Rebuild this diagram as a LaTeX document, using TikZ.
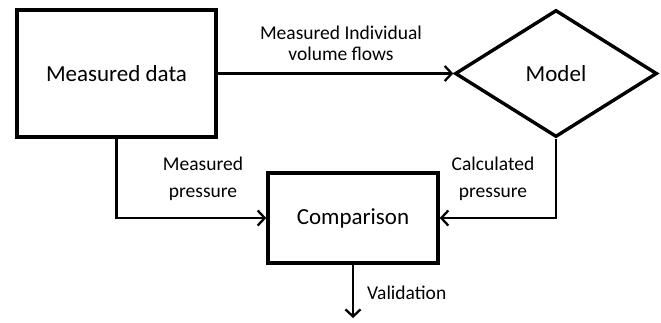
\documentclass[tikz,border=0pt]{standalone}
\usepackage{fontspec}
\setmainfont{Carlito}
\usetikzlibrary{arrows.meta,shapes.geometric}
\begin{document}
\begin{tikzpicture}[x=1pt,y=-1pt,
  box/.style={draw,line width=3.4pt,inner sep=0pt},
  conn/.style={line width=2.3pt,-{Straight Barb[length=7pt,width=15pt,line width=2.3pt]}},
  big/.style={font=\fontsize{23}{26}\selectfont},
  lbl/.style={font=\fontsize{19.5}{27}\selectfont,align=center,inner sep=0pt},
  lbltop/.style={font=\fontsize{19.5}{21}\selectfont,align=center,inner sep=0pt}]
\useasboundingbox (0,0) rectangle (661,322);
\node[box,minimum width=199pt,minimum height=127pt,big] (md) at (116.5,73.5) {Measured data};
\node[box,minimum width=170pt,minimum height=90pt,big] (cmp) at (353,218) {Comparison};
\node[draw,line width=3.4pt,diamond,shape aspect=1.55,minimum width=202pt,minimum height=127pt,inner sep=0pt,big] (mod) at (556,73.5) {Model};
\coordinate (v) at (353,318);
\draw[conn] (md.east) -- (mod.west);
\draw[conn] (md.south) |- (cmp.west);
\draw[conn] (mod.south) |- (cmp.east);
\draw[conn] (cmp.south) -- (v);
\node[lbltop] (l1) at (341,43) {Measured Individual\\volume flows};
\node[lbl] (l2) at (203,179) {Measured\\pressure};
\node[lbl] (l3) at (493,179) {Calculated\\pressure};
\node[lbl,anchor=west] (l4) at (367,293) {Validation};
\end{tikzpicture}
\end{document}
